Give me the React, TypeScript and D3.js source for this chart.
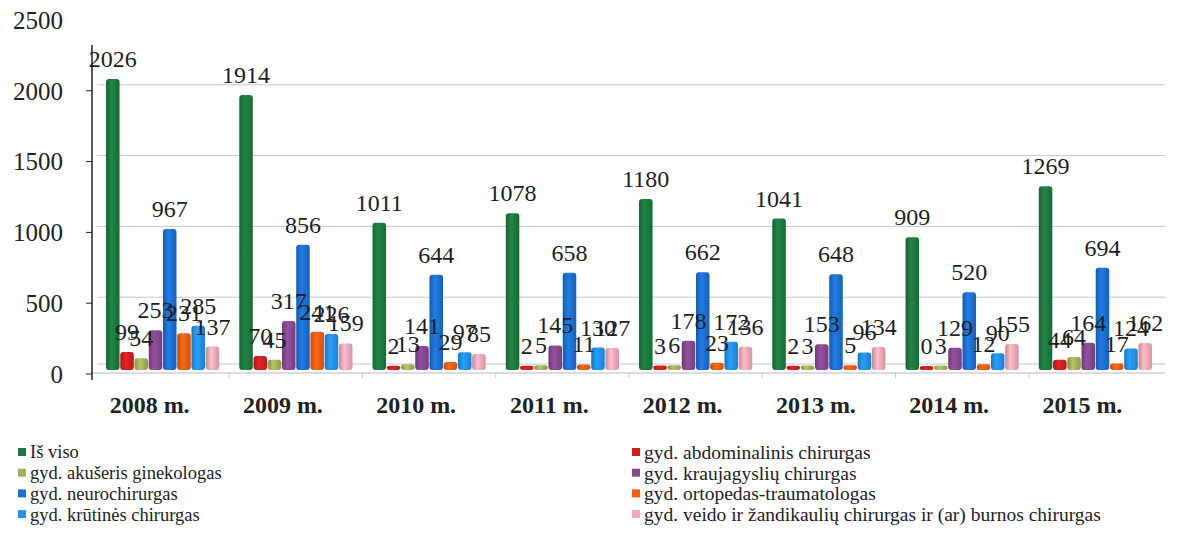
import React, { useEffect, useRef } from "react";
import * as d3 from "d3";

const years = ["2008 m.", "2009 m.", "2010 m.", "2011 m.", "2012 m.", "2013 m.", "2014 m.", "2015 m."];

const seriesNames = [
  "Iš viso",
  "gyd. abdominalinis chirurgas",
  "gyd. akušeris ginekologas",
  "gyd. kraujagyslių chirurgas",
  "gyd. neurochirurgas",
  "gyd. ortopedas-traumatologas",
  "gyd. krūtinės chirurgas",
  "gyd. veido ir žandikaulių chirurgas ir (ar) burnos chirurgas",
];

const seriesColors = ["#1c7a3e", "#d21e20", "#a3b257", "#87488f", "#1c6fd2", "#f25d10", "#2191ee", "#f4aab8"];

// one array per series, in year order
const isViso = [2026, 1914, 1011, 1078, 1180, 1041, 909, 1269];
const abdominalinis = [99, 70, 2, 2, 3, 2, 0, 44];
const akuseris = [54, 45, 13, 5, 6, 3, 3, 64];
const kraujagysliu = [253, 317, 141, 145, 178, 153, 129, 164];
const neuro = [967, 856, 644, 658, 662, 648, 520, 694];
const ortopedas = [231, 241, 29, 11, 23, 5, 12, 17];
const krutines = [285, 226, 97, 130, 172, 96, 90, 124];
const veido = [137, 159, 85, 127, 136, 134, 155, 162];

const seriesValues = [isViso, abdominalinis, akuseris, kraujagysliu, neuro, ortopedas, krutines, veido];

const yTicks = [0, 500, 1000, 1500, 2000, 2500];

const serif = '"Liberation Serif", "Times New Roman", serif';

function Chart() {
  const ref = useRef<SVGSVGElement>(null);

  useEffect(() => {
    const svg = d3.select(ref.current);
    svg.selectAll("*").remove();

    const y = d3.scaleLinear().domain([0, 2500]).range([368, 14]);

    const x0 = d3.scaleBand().domain(years).range([96, 1162]).paddingInner(0.14).paddingOuter(0.07);
    const x1 = d3
      .scaleBand()
      .domain(d3.range(seriesNames.length).map(String))
      .range([0, x0.bandwidth()])
      .padding(0.05);

    // cylinder-ish shading
    const defs = svg.append("defs");
    seriesColors.forEach((c, i) => {
      const g = defs.append("linearGradient").attr("id", "grad" + i).attr("x1", "0").attr("x2", "1").attr("y1", "0").attr("y2", "0");
      g.append("stop").attr("offset", "0%").attr("stop-color", d3.color(c)!.darker(0.6).toString());
      g.append("stop").attr("offset", "40%").attr("stop-color", d3.color(c)!.brighter(0.3).toString());
      g.append("stop").attr("offset", "100%").attr("stop-color", d3.color(c)!.darker(0.4).toString());
    });

    // gridlines
    svg
      .append("g")
      .selectAll("line")
      .data(yTicks.filter((t) => t < 2500))
      .enter()
      .append("line")
      .attr("x1", 97)
      .attr("x2", 1165)
      .attr("y1", (d) => y(d) - (d === 0 ? 4 : 0))
      .attr("y2", (d) => y(d) - (d === 0 ? 4 : 0))
      .attr("stroke", "#c9c6d2")
      .attr("stroke-width", 1);

    // floor line + category ticks
    svg
      .append("line")
      .attr("x1", 92)
      .attr("x2", 1165)
      .attr("y1", y(0) + 5)
      .attr("y2", y(0) + 5)
      .attr("stroke", "#b8b5c4");
    svg
      .append("g")
      .selectAll("line")
      .data(years.slice(1))
      .enter()
      .append("line")
      .attr("x1", (d) => x0(d)! - (x0.step() - x0.bandwidth()) / 2)
      .attr("x2", (d) => x0(d)! - (x0.step() - x0.bandwidth()) / 2)
      .attr("y1", y(0) + 5)
      .attr("y2", y(0) + 10)
      .attr("stroke", "#c9c6d2");

    // y axis
    const axis = svg.append("g").attr("transform", "translate(92,0)");
    axis.append("line").attr("x1", 0).attr("x2", 0).attr("y1", 45).attr("y2", 380).attr("stroke", "#222").attr("stroke-width", 1.5);
    axis
      .selectAll(".tick")
      .data(yTicks.filter((t) => t < 2500))
      .enter()
      .append("line")
      .attr("x1", -6)
      .attr("x2", 0)
      .attr("y1", (d) => y(d) + 6)
      .attr("y2", (d) => y(d) + 6)
      .attr("stroke", "#222");
    axis
      .selectAll("text")
      .data(yTicks)
      .enter()
      .append("text")
      .attr("x", -29)
      .attr("y", (d) => y(d) + 6)
      .attr("dy", "0.35em")
      .attr("text-anchor", "end")
      .style("font-family", serif)
      .style("font-size", "25px")
      .attr("fill", "#222")
      .text((d) => d);

    // bars
    const groups = svg
      .append("g")
      .selectAll("g")
      .data(years)
      .enter()
      .append("g")
      .attr("transform", (d) => "translate(" + x0(d) + ",0)");

    groups
      .selectAll("rect")
      .data((d, yi) => seriesValues.map((vals, si) => ({ si, v: vals[yi] })))
      .enter()
      .append("rect")
      .attr("x", (d) => x1(String(d.si))!)
      .attr("width", x1.bandwidth())
      .attr("y", (d) => y(d.v) - 2)
      .attr("height", (d) => y(0) - y(d.v) + 4)
      .attr("rx", 3)
      .attr("fill", (d) => "url(#grad" + d.si + ")");

    // value labels
    groups
      .selectAll("text")
      .data((d, yi) => seriesValues.map((vals, si) => ({ si, v: vals[yi] })))
      .enter()
      .append("text")
      .attr("x", (d) => x1(String(d.si))! + x1.bandwidth() / 2)
      .attr("y", (d) => y(d.v) - 14)
      .attr("text-anchor", "middle")
      .style("font-family", serif)
      .style("font-size", "24px")
      .attr("fill", "#1e1e1e")
      .text((d) => d.v);

    // x labels
    svg
      .append("g")
      .selectAll("text")
      .data(years)
      .enter()
      .append("text")
      .attr("x", (d) => x0(d)! + x0.bandwidth() / 2 - 13)
      .attr("y", 405)
      .attr("dy", "0.35em")
      .attr("text-anchor", "middle")
      .style("font-family", serif)
      .style("font-size", "24px")
      .style("font-weight", "bold")
      .attr("fill", "#222")
      .text((d) => d);

    // legend, two columns
    const legend = svg
      .append("g")
      .selectAll("g")
      .data(seriesNames)
      .enter()
      .append("g")
      .attr("transform", (d, i) => "translate(" + (i % 2 === 0 ? 18 : 632) + "," + (452 + Math.floor(i / 2) * 20.7) + ")");
    legend
      .append("rect")
      .attr("x", 0)
      .attr("y", -4)
      .attr("width", 8)
      .attr("height", 8)
      .attr("fill", (d, i) => seriesColors[i]);
    legend
      .append("text")
      .attr("x", 12)
      .attr("y", 0)
      .attr("dy", "0.35em")
      .style("font-family", serif)
      .style("font-size", (d, i) => (i % 2 === 0 ? "18.5px" : "19.5px"))
      .attr("fill", "#222")
      .text((d) => d);
  }, []);

  return <svg ref={ref} width={1177} height={538} style={{ display: "block", background: "#fff" }} />;
}

export default function App() {
  return (
    <div style={{ margin: -8 }}>
      <Chart />
    </div>
  );
}
